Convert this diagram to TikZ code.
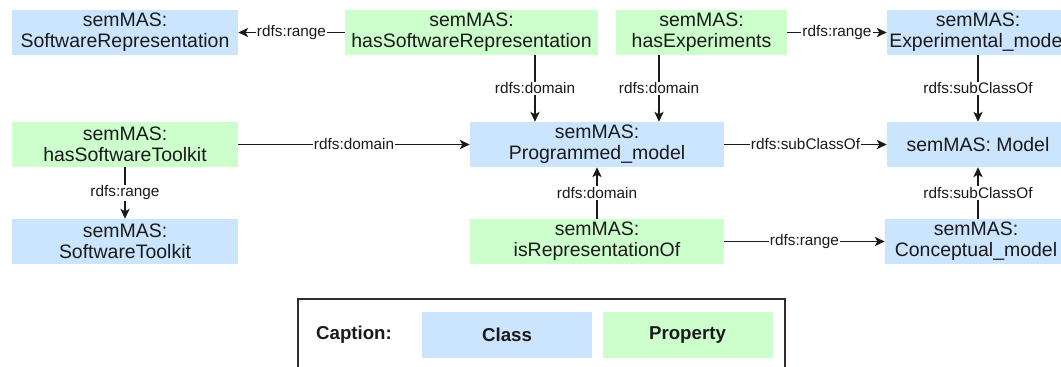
\documentclass[tikz,border=0pt]{standalone}
\usepackage{fontspec}
\setmainfont{Liberation Sans}
\usetikzlibrary{arrows.meta}

\definecolor{classblue}{HTML}{CCE5FF}
\definecolor{propgreen}{HTML}{CCFFCC}
\definecolor{txt}{HTML}{1A1A1A}
\definecolor{framecol}{HTML}{3A2830}

\begin{document}
\begin{tikzpicture}[x=0.75pt, y=-0.75pt,
    box/.style={inner sep=0pt, align=center, minimum height=33.75pt, text=txt,
        font=\fontsize{14.6}{15.5}\selectfont},
    cls/.style={box, fill=classblue},
    prop/.style={box, fill=propgreen},
    rel/.style={-{Stealth[length=7.5pt, width=7pt, inset=2pt]}, line width=0.9pt, draw=txt},
    lbl/.style={fill=white, inner sep=1pt, text=txt, font=\fontsize{11.5}{12}\selectfont},
    legend/.style={inner sep=0pt, text=txt, font=\fontsize{14}{15}\selectfont\bfseries}]
    \useasboundingbox (0,0) rectangle (1061,367);
    \clip (0,0) rectangle (1061,367);

    % top row
    \node[cls, minimum width=169.5pt] (srep) at (125,32.5) {semMAS:\\SoftwareRepresentation};
    \node[prop, minimum width=189.75pt] (hassrep) at (471.5,32.5) {semMAS:\\hasSoftwareRepresentation};
    \node[prop, minimum width=128.25pt] (hasexp) at (701.5,32.5) {semMAS:\\hasExperiments};
    \node[cls, minimum width=136.5pt] (expmodel) at (978,32.5) {semMAS:\\Experimental\_model};

    % middle row
    \node[prop, minimum width=169.5pt] (hastoolkit) at (125,144.5) {semMAS:\\hasSoftwareToolkit};
    \node[cls, minimum width=190.5pt] (progmodel) at (597,144.5) {semMAS:\\Programmed\_model};
    \node[cls, minimum width=136.5pt] (model) at (978,144.5) {semMAS: Model};

    % bottom row
    \node[cls, minimum width=169.5pt] (toolkit) at (125,241.5) {semMAS:\\SoftwareToolkit};
    \node[prop, minimum width=190.5pt] (isrep) at (597,241.5) {semMAS:\\isRepresentationOf};
    \node[cls, minimum width=136.5pt] (concmodel) at (976,241.5) {semMAS:\\Conceptual\_model};

    \draw[rel] (hassrep.west) -- (srep.east) node[lbl, midway] {rdfs:range};
    \draw[rel] ([xshift=47.625pt]hassrep.south) -- ([xshift=-46.5pt]progmodel.north) node[lbl, midway] {rdfs:domain};
    \draw[rel] ([xshift=-31.875pt]hasexp.south) -- ([xshift=46.5pt]progmodel.north) node[lbl, midway] {rdfs:domain};
    \draw[rel] (hasexp.east) -- (expmodel.west) node[lbl, midway] {rdfs:range};
    \draw[rel] (expmodel.south) -- (model.north) node[lbl, midway] {rdfs:subClassOf};
    \draw[rel] (hastoolkit.east) -- (progmodel.west) node[lbl, midway] {rdfs:domain};
    \draw[rel] (hastoolkit.south) -- (toolkit.north) node[lbl, midway] {rdfs:range};
    \draw[rel] (progmodel.east) -- (model.west) node[lbl, midway] {rdfs:subClassOf};
    \draw[rel] (isrep.north) -- (progmodel.south) node[lbl, midway] {rdfs:domain};
    \draw[rel] (isrep.east) -- (concmodel.west) node[lbl, midway] {rdfs:range};
    \draw[rel] ([xshift=1.5pt]concmodel.north) -- (model.south) node[lbl, midway] {rdfs:subClassOf};

    % caption
    \draw[framecol, line width=1.6pt] (298,299) rectangle (785,400);
    \node[legend] (capt) at (354,335) {Caption:};
    \node[legend, fill=classblue, minimum width=127.5pt, minimum height=34.5pt] (capclass) at (507,335) {Class};
    \node[legend, fill=propgreen, minimum width=127.5pt, minimum height=34.5pt] (capprop) at (687.5,335) {Property};
\end{tikzpicture}
\end{document}
